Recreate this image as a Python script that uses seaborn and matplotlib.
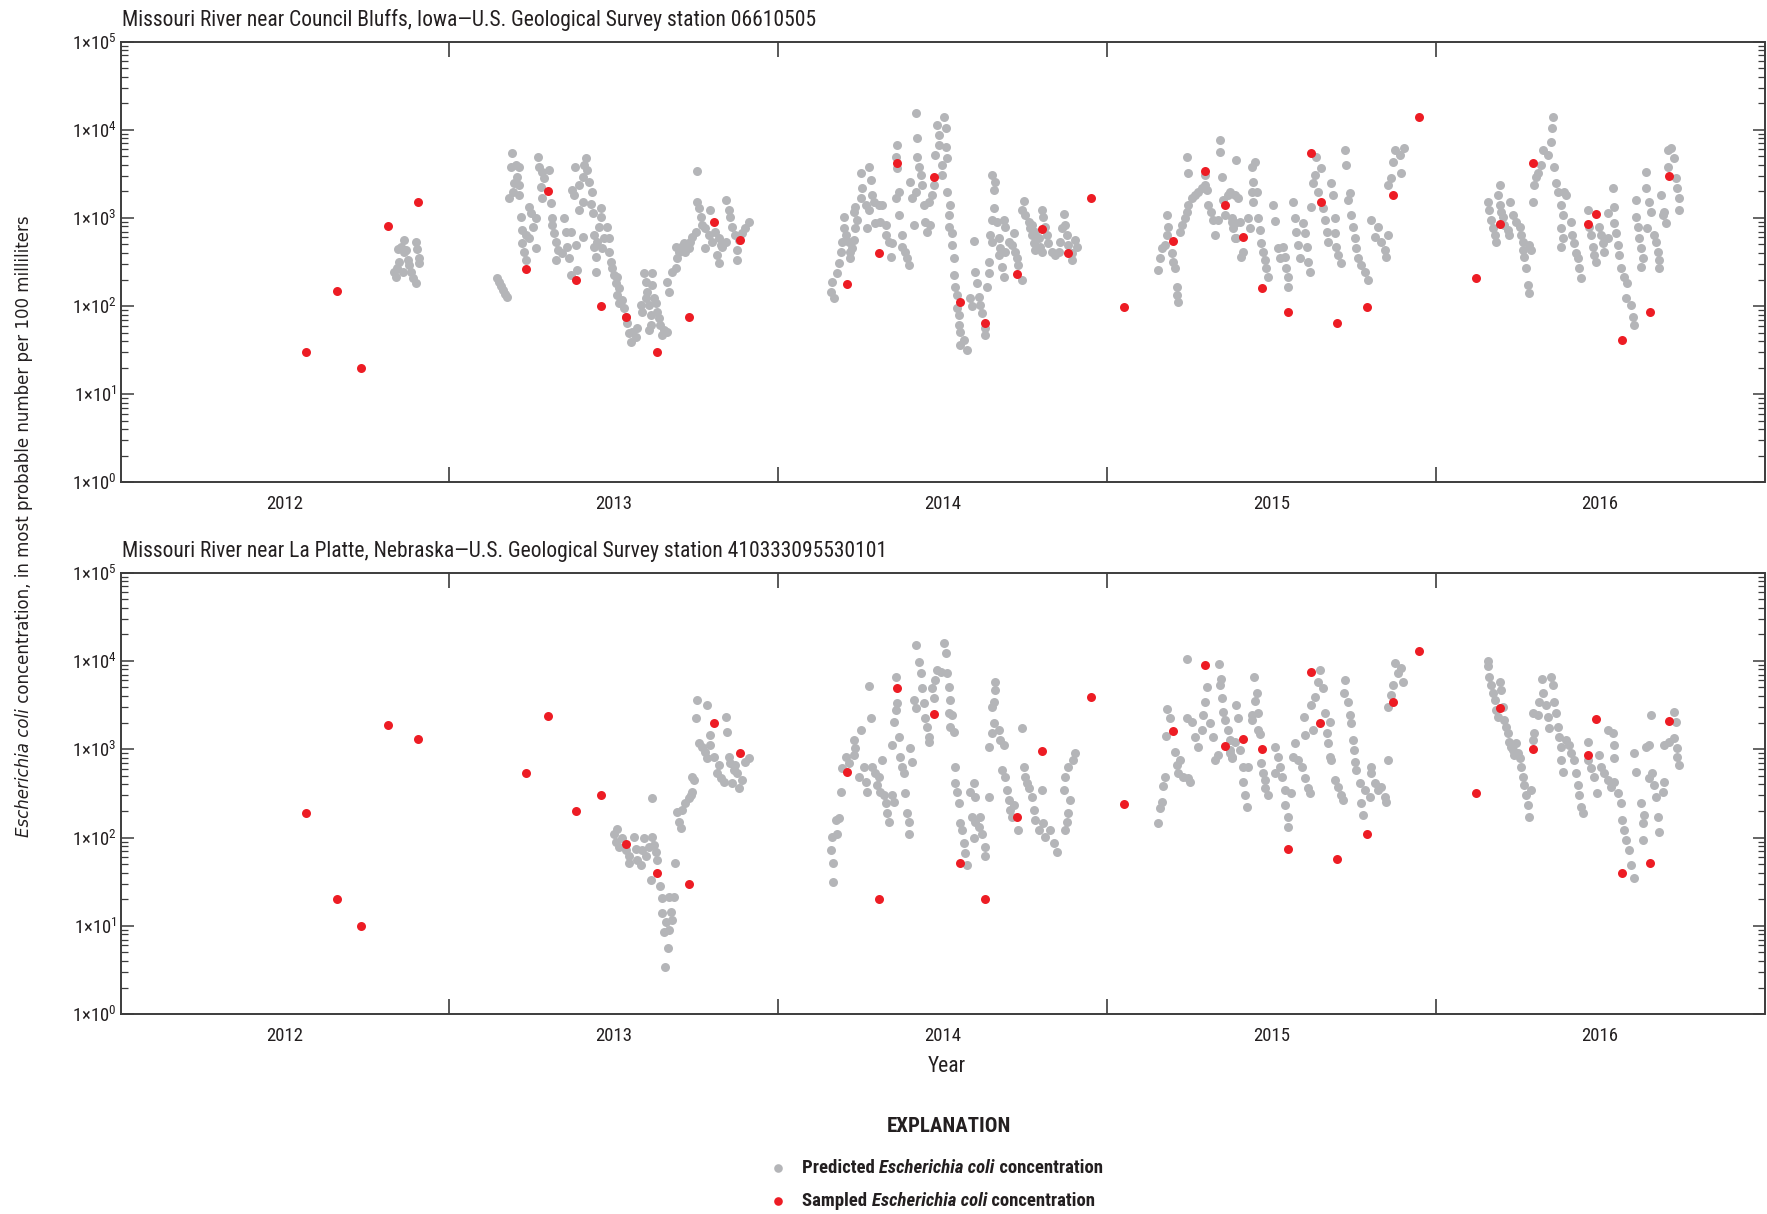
import matplotlib
matplotlib.use("Agg")
import matplotlib.pyplot as plt
import matplotlib.font_manager as fm
import seaborn as sns
from matplotlib.lines import Line2D
from matplotlib.ticker import FixedLocator, LogLocator, NullFormatter, FixedFormatter

# ---------------- data ----------------
years = [2012, 2013, 2014, 2015, 2016]
year_labels = ["2012", "2013", "2014", "2015", "2016"]
y_tick_values = [1, 10, 100, 1000, 10000, 100000]
y_tick_labels = ["1×10$^{0}$", "1×10$^{1}$", "1×10$^{2}$", "1×10$^{3}$", "1×10$^{4}$", "1×10$^{5}$"]

title_cb = "Missouri River near Council Bluffs, Iowa\u2014U.S. Geological Survey station 06610505"
title_lp = "Missouri River near La Platte, Nebraska\u2014U.S. Geological Survey station 410333095530101"

# Council Bluffs - predicted (decimal year, MPN/100 mL)
cb_pred_x = [
    2012.863, 2012.853, 2012.843, 2012.868, 2012.899, 2012.901, 2012.846, 2012.840, 2012.833, 2012.838,
    2012.858, 2012.873, 2012.878, 2012.883, 2012.888, 2012.897, 2012.909, 2012.907, 2012.863,
    2013.146, 2013.152, 2013.158, 2013.164, 2013.170, 2013.174,
    2013.190, 2013.187, 2013.202, 2013.212, 2013.207, 2013.197, 2013.212, 2013.192, 2013.182, 2013.212,
    2013.243, 2013.217, 2013.248, 2013.263, 2013.222, 2013.233, 2013.253, 2013.222, 2013.228, 2013.233,
    2013.263, 2013.243,
    2013.271, 2013.273, 2013.283, 2013.303, 2013.288, 2013.278, 2013.283, 2013.310, 2013.313, 2013.313,
    2013.319, 2013.324, 2013.329, 2013.324, 2013.349, 2013.354, 2013.369, 2013.359, 2013.344, 2013.364,
    2013.369, 2013.384, 2013.405, 2013.389,
    2013.415, 2013.410, 2013.420, 2013.382, 2013.405, 2013.425, 2013.394, 2013.374, 2013.433, 2013.379,
    2013.405, 2013.430, 2013.394, 2013.437, 2013.460, 2013.460,
    2013.455, 2013.480, 2013.440, 2013.450, 2013.470, 2013.486, 2013.440, 2013.465, 2013.486, 2013.445,
    2013.491, 2013.496, 2013.445, 2013.501, 2013.511, 2013.506, 2013.516, 2013.511, 2013.526, 2013.516,
    2013.531, 2013.536, 2013.541, 2013.546, 2013.551, 2013.567, 2013.572, 2013.556,
    2013.592, 2013.617, 2013.597, 2013.617, 2013.602, 2013.597, 2013.622, 2013.582, 2013.607, 2013.627,
    2013.587, 2013.612, 2013.632, 2013.637, 2013.612, 2013.607, 2013.642, 2013.653, 2013.648, 2013.663,
    2013.668, 2013.663, 2013.678, 2013.688, 2013.693, 2013.698, 2013.703, 2013.713, 2013.688, 2013.718,
    2013.728, 2013.733, 2013.738, 2013.749, 2013.754, 2013.759, 2013.764, 2013.754, 2013.769, 2013.779,
    2013.779, 2013.794, 2013.789, 2013.799, 2013.809, 2013.820, 2013.825, 2013.814, 2013.820, 2013.840,
    2013.850, 2013.855, 2013.860, 2013.870, 2013.880, 2013.875, 2013.875, 2013.890, 2013.900, 2013.911,
    2013.830, 2013.840,
    2014.170, 2014.160, 2014.165, 2014.180, 2014.185, 2014.190, 2014.195, 2014.205, 2014.200, 2014.200,
    2014.215, 2014.220, 2014.220, 2014.225, 2014.230, 2014.235, 2014.241, 2014.230, 2014.235, 2014.251,
    2014.256, 2014.251, 2014.276, 2014.281, 2014.266, 2014.276, 2014.286, 2014.291, 2014.271, 2014.296,
    2014.306, 2014.316, 2014.311, 2014.327, 2014.327, 2014.337, 2014.342, 2014.347, 2014.357, 2014.367,
    2014.367, 2014.362, 2014.357, 2014.362, 2014.377, 2014.387, 2014.392, 2014.397, 2014.377, 2014.402,
    2014.408, 2014.418, 2014.413, 2014.423, 2014.423, 2014.418, 2014.428, 2014.433, 2014.438, 2014.443,
    2014.448, 2014.453, 2014.463, 2014.468, 2014.458, 2014.473, 2014.478, 2014.483, 2014.488, 2014.488,
    2014.504, 2014.509, 2014.509, 2014.514, 2014.499, 2014.499, 2014.514, 2014.524, 2014.519, 2014.519,
    2014.529, 2014.529, 2014.534, 2014.534, 2014.539, 2014.544, 2014.544, 2014.549, 2014.549, 2014.554,
    2014.564, 2014.574, 2014.554,
    2014.595, 2014.600, 2014.605, 2014.585, 2014.590, 2014.610, 2014.615, 2014.620, 2014.630, 2014.630,
    2014.640, 2014.640, 2014.635, 2014.650, 2014.661, 2014.655, 2014.655, 2014.650, 2014.666, 2014.645,
    2014.650, 2014.671, 2014.676, 2014.671, 2014.681, 2014.686, 2014.691, 2014.701, 2014.716, 2014.711,
    2014.721, 2014.726, 2014.731, 2014.741, 2014.686, 2014.691,
    2014.747, 2014.741, 2014.752, 2014.762, 2014.767, 2014.772, 2014.777, 2014.782, 2014.772, 2014.782,
    2014.792, 2014.797, 2014.802, 2014.802, 2014.807, 2014.812, 2014.817, 2014.822, 2014.833, 2014.843,
    2014.853, 2014.858, 2014.863, 2014.868, 2014.873, 2014.878, 2014.883, 2014.893, 2014.893, 2014.903,
    2014.908,
    2015.156, 2015.161, 2015.166, 2015.177, 2015.182, 2015.182, 2015.187, 2015.197, 2015.202, 2015.207,
    2015.212, 2015.212, 2015.217, 2015.222, 2015.227, 2015.237, 2015.242, 2015.247, 2015.258, 2015.268,
    2015.278, 2015.288, 2015.298, 2015.303, 2015.247, 2015.245, 2015.298, 2015.308, 2015.318, 2015.323,
    2015.328, 2015.339, 2015.344, 2015.344, 2015.349, 2015.354, 2015.359, 2015.369, 2015.379, 2015.384,
    2015.389,
    2015.394, 2015.440, 2015.450, 2015.445, 2015.440, 2015.455, 2015.445, 2015.389, 2015.374, 2015.399,
    2015.379, 2015.389, 2015.404, 2015.430, 2015.435, 2015.460, 2015.465, 2015.394, 2015.415, 2015.409,
    2015.470, 2015.475, 2015.480, 2015.485, 2015.490, 2015.506, 2015.511, 2015.521, 2015.526, 2015.536,
    2015.541, 2015.546, 2015.551, 2015.551, 2015.566, 2015.571, 2015.576, 2015.581, 2015.587, 2015.597,
    2015.602, 2015.607, 2015.612, 2015.617, 2015.622, 2015.627, 2015.632, 2015.637, 2015.652, 2015.642,
    2015.657, 2015.662, 2015.668, 2015.673, 2015.683, 2015.688, 2015.693, 2015.693, 2015.698, 2015.703,
    2015.713, 2015.723, 2015.728, 2015.733, 2015.738, 2015.743, 2015.748, 2015.754, 2015.759, 2015.764,
    2015.774, 2015.784, 2015.794, 2015.804, 2015.814, 2015.824, 2015.835, 2015.845, 2015.850, 2015.855,
    2015.855, 2015.865, 2015.870, 2015.875, 2015.890, 2015.895, 2015.905,
    2016.158, 2016.163, 2016.168, 2016.173, 2016.179, 2016.184, 2016.189, 2016.194, 2016.197, 2016.199,
    2016.204, 2016.209, 2016.219, 2016.224, 2016.227, 2016.234, 2016.244, 2016.255, 2016.260, 2016.265,
    2016.265, 2016.270, 2016.275, 2016.280, 2016.285, 2016.285, 2016.290, 2016.295, 2016.300, 2016.305,
    2016.310, 2016.320, 2016.325, 2016.341, 2016.351, 2016.353, 2016.356, 2016.361, 2016.366, 2016.371,
    2016.381, 2016.386, 2016.391, 2016.396, 2016.381, 2016.386, 2016.381, 2016.411, 2016.416, 2016.421,
    2016.427, 2016.432, 2016.437, 2016.442, 2016.462, 2016.467, 2016.472, 2016.477, 2016.482, 2016.487,
    2016.497, 2016.502, 2016.508, 2016.513, 2016.523, 2016.523, 2016.538, 2016.543, 2016.543, 2016.548,
    2016.553, 2016.558, 2016.563, 2016.573, 2016.583, 2016.578, 2016.594, 2016.599, 2016.604, 2016.609,
    2016.609, 2016.614, 2016.619, 2016.624, 2016.629, 2016.624, 2016.639, 2016.639, 2016.649, 2016.654,
    2016.644, 2016.664, 2016.669, 2016.675, 2016.680, 2016.680, 2016.685, 2016.690, 2016.700, 2016.695,
    2016.705, 2016.705, 2016.715, 2016.725, 2016.730, 2016.735, 2016.740, 2016.740,
]
cb_pred_y = [
    562, 473, 445, 433, 530, 445, 319, 268, 246, 216,
    246, 333, 293, 246, 207, 185, 348, 305, 415,
    210, 189, 171, 152, 137, 126,
    5420, 3830, 4000, 3830, 2940, 2470, 2370, 1990, 1670, 1820,
    1345, 1035, 1130, 990, 731, 641, 798, 515, 415, 333,
    453, 587,
    4970, 3830, 3360, 3510, 2820, 2270, 1670, 1470, 992, 833,
    670, 538, 433, 333, 990, 700, 700, 473, 397, 348,
    225, 494, 614, 257,
    4750, 4000, 3510, 3830, 2940, 2540, 2370, 2080, 1990, 1820,
    1530, 1430, 1230, 1130, 1290, 1035,
    798, 798, 641, 538, 587, 587, 473, 453, 415, 364,
    319, 268, 246, 225, 216, 181, 159, 134, 117, 107,
    94, 76, 64, 49, 39, 45, 56, 51,
    236, 236, 189, 173, 146, 122, 122, 103, 103, 107,
    86, 79, 86, 73, 61, 54, 61, 54, 47, 51,
    146, 189, 246, 268, 348, 415, 473, 515, 473, 415,
    453, 538, 614, 700, 1530, 1290, 1035, 3410, 833, 764,
    453, 1230, 641, 538, 700, 587, 494, 380, 305, 1600,
    1230, 1035, 798, 641, 562, 433, 333, 670, 764, 908,
    473, 538,
    122, 146, 189, 236, 305, 415, 538, 641, 764, 1035,
    538, 415, 348, 453, 562, 764, 948, 1180, 1345, 1670,
    2170, 3210, 3830, 2700, 1405, 1230, 1820, 1530, 764, 869,
    1405, 1405, 908, 833, 641, 538, 364, 515, 1670, 1990,
    1080, 6750, 4970, 3660, 641, 415, 348, 293, 473, 2580,
    1670, 1990, 833, 4970, 8170, 15400, 3830, 3080, 2370, 1405,
    908, 700, 833, 1820, 1530, 2370, 5190, 11380, 8750, 6750,
    14130, 10420, 6460, 4750, 4000, 3080, 1990, 1405, 1080, 798,
    670, 494, 348, 225, 166, 134, 94, 79, 61, 51,
    41, 32, 36,
    548, 246, 181, 122, 99, 128, 103, 83, 47, 56,
    319, 236, 166, 3080, 2580, 2080, 1290, 948, 908, 641,
    538, 587, 453, 380, 281, 216, 415, 538, 670, 494,
    415, 348, 293, 198, 948, 798,
    1560, 1230, 1080, 908, 764, 641, 515, 433, 833, 700,
    587, 473, 415, 1230, 1035, 798, 641, 515, 415, 380,
    415, 538, 764, 1100, 833, 641, 494, 397, 333, 562,
    473,
    257, 348, 453, 494, 641, 1080, 798, 397, 319, 268,
    166, 134, 112, 700, 833, 992, 1180, 1405, 1670, 1820,
    1990, 2170, 2370, 2080, 3210, 4970, 3080, 1405, 1180, 948,
    641, 948, 7670, 5660, 2940, 1600, 1080, 1820, 908, 764,
    587,
    4550, 3830, 4350, 2580, 1990, 1990, 1530, 1820, 1990, 1670,
    992, 869, 908, 992, 764, 992, 731, 587, 415, 364,
    515, 415, 333, 268, 216, 1405, 925, 453, 348, 473,
    364, 268, 216, 166, 1530, 992, 700, 494, 348, 869,
    670, 473, 319, 246, 1345, 2470, 3080, 4970, 3660, 1990,
    1290, 948, 700, 538, 2470, 1820, 992, 670, 473, 380,
    305, 5920, 4000, 1600, 1905, 1080, 798, 587, 453, 348,
    293, 246, 198, 948, 614, 798, 538, 433, 364, 641,
    2370, 2820, 4350, 5920, 5190, 3210, 6180,
    1530, 1230, 948, 764, 641, 538, 1820, 1405, 2370, 1180,
    1035, 833, 731, 641, 1530, 1080, 908, 798, 641, 538,
    433, 364, 268, 174, 140, 494, 433, 1530, 2370, 2940,
    3210, 4000, 5920, 5190, 7350, 10420, 14130, 3830, 2470, 1990,
    1405, 1080, 1990, 1820, 764, 587, 473, 908, 641, 515,
    397, 348, 268, 207, 1230, 798, 641, 473, 380, 319,
    798, 641, 515, 415, 587, 1130, 2170, 1345, 869, 670,
    494, 380, 268, 216, 181, 122, 103, 76, 61, 1600,
    1035, 798, 587, 453, 348, 281, 3360, 2170, 1530, 1180,
    764, 641, 538, 415, 333, 268, 1820, 1080, 869, 1180,
    5920, 3830, 6180, 4750, 2820, 2170, 1670, 1230,
]

# Council Bluffs - sampled
cb_samp_x = [
    2012.564, 2012.657, 2012.730, 2012.812, 2012.905, 2013.234, 2013.301, 2013.386, 2013.462, 2013.537,
    2013.632, 2013.728, 2013.804, 2013.883, 2014.210, 2014.306, 2014.361, 2014.473, 2014.552, 2014.629,
    2014.727, 2014.803, 2014.881, 2014.952, 2015.051, 2015.200, 2015.299, 2015.359, 2015.415, 2015.472,
    2015.551, 2015.622, 2015.650, 2015.701, 2015.792, 2015.871, 2015.948, 2016.123, 2016.197, 2016.295,
    2016.464, 2016.486, 2016.566, 2016.653, 2016.710,
]
cb_samp_y = [
    30, 150, 20, 800, 1500, 260, 2000, 200, 100, 76,
    30, 76, 890, 555, 180, 400, 4200, 2900, 110, 64,
    230, 750, 400, 1700, 98, 550, 3400, 1400, 600, 160,
    86, 5500, 1500, 64, 98, 1800, 14000, 210, 850, 4200,
    850, 1100, 41, 86, 3000,
]

# La Platte - predicted
lp_pred_x = [
    2013.501, 2013.511, 2013.506, 2013.516, 2013.526, 2013.536, 2013.546, 2013.546, 2013.561, 2013.567,
    2013.572, 2013.582, 2013.592, 2013.587, 2013.597, 2013.607, 2013.617, 2013.622, 2013.627, 2013.632,
    2013.617, 2013.612, 2013.642, 2013.647, 2013.668, 2013.683, 2013.647, 2013.673, 2013.678, 2013.658,
    2013.652, 2013.668, 2013.666, 2013.655, 2013.686, 2013.693, 2013.698, 2013.703, 2013.708, 2013.718,
    2013.728, 2013.739, 2013.734, 2013.739, 2013.744, 2013.754, 2013.784, 2013.751, 2013.794, 2013.759,
    2013.769, 2013.779, 2013.784, 2013.794, 2013.804, 2013.820, 2013.814, 2013.825, 2013.835, 2013.840,
    2013.845, 2013.850, 2013.855, 2013.865, 2013.875, 2013.860, 2013.880, 2013.890, 2013.900, 2013.911,
    2013.870,
    2014.167, 2014.167, 2014.160, 2014.165, 2014.180, 2014.175, 2014.185, 2014.190, 2014.195, 2014.205,
    2014.215, 2014.230, 2014.235, 2014.230, 2014.251, 2014.281, 2014.276, 2014.246, 2014.261, 2014.266,
    2014.271, 2014.286, 2014.296, 2014.301, 2014.306, 2014.316, 2014.311, 2014.321, 2014.327, 2014.332,
    2014.337, 2014.347, 2014.352, 2014.357, 2014.362, 2014.357, 2014.352, 2014.367, 2014.347, 2014.372,
    2014.377, 2014.382, 2014.402, 2014.408, 2014.387, 2014.392, 2014.397, 2014.397, 2014.418, 2014.428,
    2014.433, 2014.438, 2014.413, 2014.418, 2014.443, 2014.448, 2014.453, 2014.458, 2014.458, 2014.468,
    2014.473, 2014.478, 2014.483, 2014.494, 2014.504, 2014.509, 2014.514, 2014.519, 2014.524, 2014.519,
    2014.529, 2014.524, 2014.534, 2014.537, 2014.539, 2014.544, 2014.549, 2014.554, 2014.559, 2014.564,
    2014.569, 2014.574, 2014.595, 2014.600, 2014.585, 2014.590, 2014.600, 2014.615, 2014.610, 2014.620,
    2014.630, 2014.630, 2014.595, 2014.640, 2014.650, 2014.661, 2014.655, 2014.661, 2014.655, 2014.650,
    2014.671, 2014.676, 2014.686, 2014.640, 2014.681, 2014.691, 2014.696, 2014.701, 2014.706, 2014.716,
    2014.711, 2014.731, 2014.741, 2014.747, 2014.752, 2014.757, 2014.762, 2014.772, 2014.777, 2014.782,
    2014.792, 2014.802, 2014.807, 2014.812, 2014.827, 2014.838, 2014.848, 2014.873, 2014.878, 2014.883,
    2014.888, 2014.868, 2014.873, 2014.883, 2014.898, 2014.903,
    2015.156, 2015.161, 2015.166, 2015.172, 2015.177, 2015.179, 2015.182, 2015.192, 2015.207, 2015.212,
    2015.217, 2015.222, 2015.232, 2015.247, 2015.252, 2015.242, 2015.245, 2015.258, 2015.268, 2015.278,
    2015.288, 2015.293, 2015.298, 2015.303, 2015.313, 2015.323, 2015.328, 2015.339, 2015.341, 2015.344,
    2015.347, 2015.349, 2015.354, 2015.359, 2015.369, 2015.374, 2015.379,
    2015.447, 2015.455, 2015.450, 2015.394, 2015.399, 2015.440, 2015.460, 2015.440, 2015.460, 2015.465,
    2015.374, 2015.389, 2015.404, 2015.379, 2015.374, 2015.415, 2015.430, 2015.415, 2015.420, 2015.425,
    2015.470, 2015.475, 2015.480, 2015.480, 2015.490, 2015.511, 2015.521, 2015.526, 2015.511, 2015.531,
    2015.541, 2015.541, 2015.551, 2015.551, 2015.561, 2015.571, 2015.566, 2015.581, 2015.592, 2015.602,
    2015.612, 2015.617, 2015.600, 2015.602, 2015.627, 2015.622, 2015.634, 2015.642, 2015.647, 2015.657,
    2015.662, 2015.678, 2015.668, 2015.673, 2015.678, 2015.683, 2015.693, 2015.703, 2015.713, 2015.718,
    2015.723, 2015.721, 2015.733, 2015.738, 2015.743, 2015.748, 2015.752, 2015.754, 2015.759, 2015.769,
    2015.774, 2015.779, 2015.784, 2015.799, 2015.804, 2015.804, 2015.814, 2015.824, 2015.835, 2015.845,
    2015.850, 2015.855, 2015.855, 2015.865, 2015.870, 2015.875, 2015.885, 2015.895, 2015.900,
    2016.158, 2016.160, 2016.163, 2016.168, 2016.173, 2016.179, 2016.184, 2016.189, 2016.194, 2016.199,
    2016.204, 2016.209, 2016.214, 2016.219, 2016.224, 2016.229, 2016.234, 2016.239, 2016.244, 2016.249,
    2016.255, 2016.260, 2016.265, 2016.270, 2016.275, 2016.280, 2016.285, 2016.290, 2016.295, 2016.300,
    2016.295, 2016.310, 2016.315, 2016.322, 2016.325, 2016.335, 2016.341, 2016.346, 2016.351, 2016.356,
    2016.361, 2016.366, 2016.371, 2016.376, 2016.381, 2016.381, 2016.386, 2016.396, 2016.406, 2016.411,
    2016.421, 2016.427, 2016.432, 2016.437, 2016.442, 2016.447, 2016.462, 2016.462, 2016.472, 2016.482,
    2016.492, 2016.497, 2016.502, 2016.513, 2016.523, 2016.533, 2016.543, 2016.523, 2016.538, 2016.543,
    2016.543, 2016.553, 2016.563, 2016.568, 2016.573, 2016.578, 2016.588, 2016.594, 2016.602, 2016.604,
    2016.609, 2016.624, 2016.629, 2016.634, 2016.629, 2016.639, 2016.649, 2016.654, 2016.659, 2016.649,
    2016.664, 2016.669, 2016.675, 2016.680, 2016.690, 2016.695, 2016.695, 2016.710, 2016.725, 2016.730,
    2016.725, 2016.735, 2016.740, 2016.735,
]
lp_pred_y = [
    110, 126, 90, 79, 98, 72, 61, 51, 102, 75,
    56, 49, 98, 72, 61, 79, 102, 82, 69, 56,
    277, 33, 28, 20.5, 21.4, 21.4, 13.9, 14.5, 11.6, 11.1,
    8.6, 9.0, 5.6, 3.4, 51, 196, 151, 127, 205, 244,
    277, 330, 303, 489, 448, 3600, 3160, 2230, 1450, 1160,
    1070, 937, 787, 1110, 822, 662, 532, 468, 429, 2290,
    1580, 822, 692, 581, 532, 410, 360, 448, 721, 787,
    662,
    31, 51, 72, 102, 111, 158, 165, 330, 607, 822,
    692, 859, 1020, 1270, 1650, 2270, 5190, 489, 634, 429,
    330, 634, 532, 393, 489, 753, 330, 303, 244, 188,
    151, 303, 255, 6620, 3300, 2780, 2050, 1390, 1110, 822,
    634, 532, 1020, 721, 316, 188, 151, 111, 15100, 9790,
    7210, 4890, 3600, 2900, 3300, 2230, 1800, 1390, 1220, 4890,
    3760, 6070, 7870, 7540, 15800, 12200, 7210, 5100, 3600, 2550,
    2440, 1800, 1580, 622, 410, 330, 244, 145, 122, 86,
    66, 49, 410, 290, 330, 172, 151, 172, 133, 111,
    79, 61, 98, 290, 3030, 5810, 3450, 4680, 1960, 1510,
    1650, 1270, 1110, 1070, 581, 489, 345, 266, 205, 233,
    172, 122, 1720, 634, 489, 410, 360, 290, 205, 158,
    122, 345, 145, 102, 122, 86, 69, 122, 151, 188,
    266, 345, 489, 634, 753, 897,
    147, 214, 255, 383, 489, 1410, 2820, 2230, 937, 662,
    532, 753, 489, 468, 429, 2230, 10500, 2050, 1390, 1070,
    1650, 2440, 3450, 5010, 1960, 1390, 753, 859, 9120, 5320,
    6180, 3760, 2660, 2140, 1650, 979, 787,
    6500, 4280, 3540, 3160, 2230, 2440, 2550, 2140, 1650, 1490,
    1270, 1220, 979, 822, 897, 634, 634, 429, 303, 223,
    692, 532, 448, 360, 303, 1070, 822, 634, 532, 489,
    345, 233, 172, 133, 316, 1160, 822, 753, 634, 468,
    360, 316, 2330, 1450, 1650, 3160, 3930, 5810, 7870, 4890,
    2550, 2050, 1510, 1160, 822, 753, 448, 376, 303, 266,
    6070, 4280, 3450, 2440, 1960, 1270, 979, 721, 581, 410,
    244, 180, 345, 290, 634, 532, 410, 345, 376, 290,
    255, 753, 3030, 4100, 5320, 9380, 7210, 8220, 5810,
    10000, 8750, 6620, 5320, 4280, 3600, 2780, 2330, 5810, 4680,
    3030, 2140, 1800, 1510, 1220, 1070, 979, 859, 1160, 897,
    787, 634, 489, 393, 303, 233, 172, 345, 1270, 1510,
    2550, 2440, 3450, 6180, 4280, 3160, 2330, 1720, 6620, 5320,
    3450, 2550, 1800, 1390, 1070, 753, 556, 1270, 1110, 897,
    753, 532, 393, 303, 223, 188, 1220, 753, 607, 489,
    316, 859, 634, 532, 448, 376, 429, 1650, 1510, 1110,
    787, 316, 244, 158, 122, 94, 72, 49, 35, 897,
    556, 244, 145, 180, 94, 1070, 1110, 2440, 532, 468,
    393, 290, 172, 116, 330, 429, 1110, 1220, 2660, 2050,
    1330, 1020, 662, 822,
]

# La Platte - sampled
lp_samp_x = [
    2012.564, 2012.657, 2012.730, 2012.812, 2012.905, 2013.234, 2013.301, 2013.386, 2013.462, 2013.537,
    2013.632, 2013.728, 2013.804, 2013.883, 2014.210, 2014.306, 2014.361, 2014.473, 2014.552, 2014.629,
    2014.727, 2014.803, 2014.952, 2015.051, 2015.201, 2015.299, 2015.360, 2015.415, 2015.471, 2015.551,
    2015.622, 2015.649, 2015.701, 2015.792, 2015.871, 2015.948, 2016.123, 2016.197, 2016.295, 2016.464,
    2016.486, 2016.566, 2016.653, 2016.710,
]
lp_samp_y = [
    190, 20, 10, 1900, 1300, 540, 2400, 200, 300, 85,
    40, 30, 2000, 900, 550, 20, 4900, 2500, 51, 20,
    170, 950, 3900, 240, 1600, 9000, 1100, 1300, 1000, 75,
    7500, 2000, 57, 110, 3400, 13000, 320, 2900, 1000, 850,
    2200, 40, 51, 2100,
]

# ---------------- style ----------------
GRAY = "#B4B5B8"
RED = "#ED1C24"
INK = "#231F20"
SPINE = "#3C3C3C"

sns.set_style("white")

# pick the narrowest available sans family
_entries = fm.fontManager.ttflist
_names = {f.name for f in _entries}
if "Liberation Sans Narrow" in _names:
    FAM, STRETCH = "Liberation Sans Narrow", "normal"
elif "Roboto Condensed" in _names:
    FAM, STRETCH = "Roboto Condensed", "normal"
elif any(f.name == "DejaVu Sans" and str(f.stretch) == "condensed" for f in _entries):
    FAM, STRETCH = "DejaVu Sans", "condensed"
elif "Roboto" in _names:
    FAM, STRETCH = "Roboto", "normal"
else:
    FAM, STRETCH = "DejaVu Sans", "normal"

plt.rcParams["font.family"] = [FAM, "DejaVu Sans"]
plt.rcParams["font.stretch"] = STRETCH
_pat = FAM if STRETCH == "normal" else FAM + ":" + STRETCH
plt.rcParams["mathtext.fontset"] = "custom"
plt.rcParams["mathtext.rm"] = _pat
plt.rcParams["mathtext.it"] = _pat + ":italic"
plt.rcParams["mathtext.bf"] = _pat + ":bold"
plt.rcParams["text.color"] = INK

W, H = 1767, 1214
fig = plt.figure(figsize=(W / 100, H / 100), dpi=100)
fig.patch.set_facecolor("white")

left = 120.6 / W
width = (1764.5 - 120.6) / W
ax1 = fig.add_axes([left, 1 - 482.3 / H, width, 440.6 / H])
ax2 = fig.add_axes([left, 1 - 1014.2 / H, width, 441.7 / H])


def draw_panel(ax, px, py, sx, sy, title):
    sns.scatterplot(x=px, y=py, ax=ax, color=GRAY, s=42, linewidth=0,
                    legend=False, zorder=2)
    sns.scatterplot(x=sx, y=sy, ax=ax, color=RED, s=42, linewidth=0,
                    legend=False, zorder=3)
    ax.set_yscale("log")
    ax.set_ylim(1, 1e5)
    ax.set_xlim(years[0], years[-1] + 1)
    ax.set_xlabel("")
    ax.set_ylabel("")
    ax.xaxis.set_major_locator(FixedLocator(years[1:]))
    ax.xaxis.set_major_formatter(NullFormatter())
    ax.xaxis.set_minor_locator(FixedLocator([y + 0.5 for y in years]))
    ax.xaxis.set_minor_formatter(FixedFormatter(year_labels))
    ax.tick_params(axis="x", which="major", direction="in", length=11, width=1.2,
                   color=SPINE, top=True, bottom=True)
    ax.tick_params(axis="x", which="minor", length=0, pad=9, labelsize=13.5,
                   labelcolor=INK)
    ax.yaxis.set_major_locator(FixedLocator(y_tick_values))
    ax.yaxis.set_major_formatter(FixedFormatter(y_tick_labels))
    ax.yaxis.set_minor_locator(LogLocator(base=10, subs=range(2, 10), numticks=20))
    ax.yaxis.set_minor_formatter(NullFormatter())
    ax.tick_params(axis="y", which="major", direction="in", length=9, width=1.1,
                   color=SPINE, left=True, right=True, pad=3, labelsize=13.5,
                   labelcolor=INK)
    ax.tick_params(axis="y", which="minor", direction="in", length=5, width=0.9,
                   color=SPINE, left=True, right=True)
    for sp in ax.spines.values():
        sp.set_color(SPINE)
        sp.set_linewidth(1.4)
        sp.set_visible(True)
    ax.grid(False)
    ax.text(0.001, 1.035, title, transform=ax.transAxes, ha="left", va="baseline",
            fontsize=15.5, color=INK)


draw_panel(ax1, cb_pred_x, cb_pred_y, cb_samp_x, cb_samp_y, title_cb)
draw_panel(ax2, lp_pred_x, lp_pred_y, lp_samp_x, lp_samp_y, title_lp)

fig.text(947 / W, 1 - 1067 / H, "Year", ha="center", va="center", fontsize=15.5, color=INK)

# ---- y-axis label (italic genus/species + regular remainder) ----
fig.canvas.draw()
renderer = fig.canvas.get_renderer()
ylab_font = ["DejaVu Sans"]
ylab_size = 12
parts = [("Escherichia coli", "italic"),
         (" concentration, in most probable number per 100 milliliters", "normal")]
probe = []
total = 0.0
for txt, style in parts:
    t = fig.text(0, 0, txt, fontsize=ylab_size, family=ylab_font, style=style,
                 stretch="normal")
    bb = t.get_window_extent(renderer)
    probe.append(bb.width)
    total += bb.width
    t.remove()
x_lab = 29 / W
y_start = (526 + total / 2) / H
pos = 1 - y_start
for (txt, style), w in zip(parts, probe):
    fig.text(x_lab, pos, txt, fontsize=ylab_size, family=ylab_font, style=style,
             stretch="normal", rotation=90, rotation_mode="anchor", ha="left",
             va="baseline", color=INK)
    pos += w / H

# ---- explanation (legend) ----
fig.text(949 / W, 1 - 1126 / H, "EXPLANATION", ha="center", va="center",
         fontsize=15, fontweight="bold", color=INK)
rows = [(GRAY, 1168, "Predicted "), (RED, 1201, "Sampled ")]
for col, yy, first in rows:
    fig.add_artist(Line2D([778 / W], [1 - yy / H], marker="o", markersize=6.2,
                          markerfacecolor=col, markeredgewidth=0, linestyle="none",
                          transform=fig.transFigure))
    xx = 802
    for txt, st in [(first, "normal"), ("Escherichia coli", "italic"), (" concentration", "normal")]:
        t = fig.text(xx / W, 1 - yy / H, txt, ha="left", va="center", fontsize=13.5,
                     fontweight="bold", style=st, color=INK)
        xx += t.get_window_extent(renderer).width

fig.savefig("out.png", dpi=100, facecolor="white")
